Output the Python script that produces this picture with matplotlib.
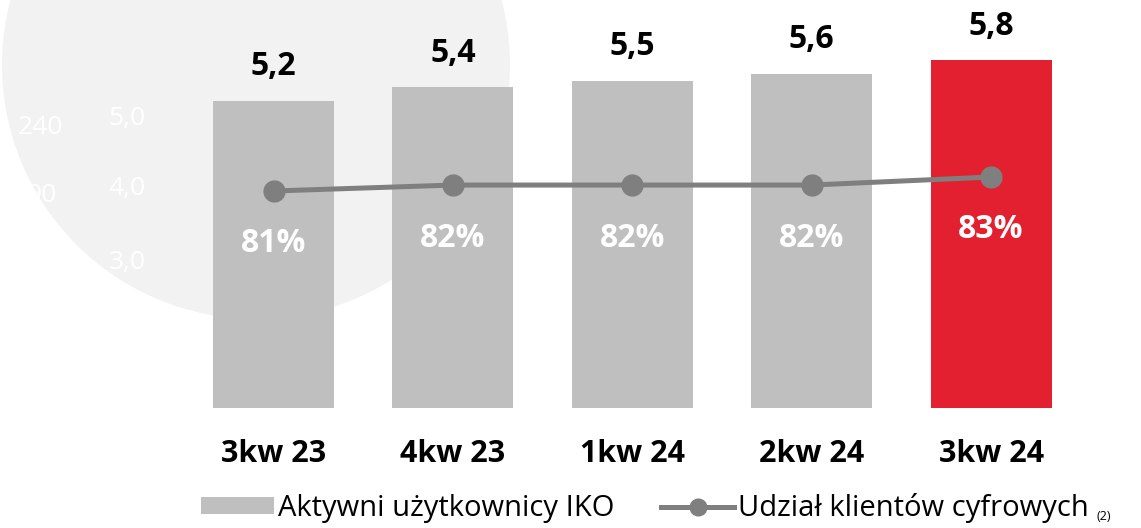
import numpy as np
import matplotlib.pyplot as plt
from matplotlib.patches import Ellipse, Patch
from matplotlib.lines import Line2D

kwartaly = ["3kw 23", "4kw 23", "1kw 24", "2kw 24", "3kw 24"]
uzytkownicy = [5.2, 5.4, 5.5, 5.6, 5.8]          # mln, Aktywni użytkownicy IKO
udzial = [81.0, 81.85, 81.85, 81.85, 83.0]        # %, Udział klientów cyfrowych
udzial_etykiety = ["81%", "82%", "82%", "82%", "83%"]

szary = "#BFBFBF"
czerwony = "#E3202F"
linia = "#7F7F7F"

plt.rcParams['font.family'] = ['Open Sans', 'DejaVu Sans']

fig = plt.figure(figsize=(11.41, 5.28), dpi=100)
fig.patch.set_facecolor("white")

# jasne kolo w tle
kolo = Ellipse((256 / 1141, 1 - 65 / 528), 508 / 1141, 508 / 528,
               transform=fig.transFigure, facecolor="#F2F2F2", edgecolor="none", zorder=-2)
fig.patches.append(kolo)

# blade napisy na kole
for tx, x, y in [("240", 40, 128), ("5,0", 127, 118), ("90", 42, 196), ("4,0", 127, 189), ("3,0", 127, 263)]:
    fig.text(x / 1141, 1 - y / 528, tx, color="white", fontsize=19, ha="center", va="center",
             zorder=-1)

ax = fig.add_axes([0, 1 - 408 / 528, 1, 408 / 528])
ax.set_facecolor("none")
x = np.arange(len(kwartaly))
kolory = [szary] * (len(kwartaly) - 1) + [czerwony]
ax.bar(x, uzytkownicy, width=0.674, color=kolory, zorder=2)
ax.set_xlim(-273.5 / 179.4, (1141 - 273.5) / 179.4)
# os slupkow nie zaczyna sie od zera
ax.set_ylim(0.705, 0.705 + 408 / 68.3)

for xi, v in zip(x, uzytkownicy):
    ax.annotate(f"{v:.1f}".replace(".", ","), (xi, v), xytext=(0, 34), textcoords="offset pixels",
                ha="center", va="center", fontsize=23, fontweight="bold", color="black")

ax.set_xticks(x)
ax.set_xticklabels(kwartaly, fontsize=22, fontweight="bold")
ax.tick_params(axis="x", length=0, pad=22)
ax.set_yticks([])
for s in ax.spines.values():
    s.set_visible(False)

ax2 = ax.twinx()
ax2.set_ylim(81 - (408 - 191) / 7, 81 + 191 / 7)
ax2.plot(x, udzial, color=linia, lw=3.6, marker="o", markersize=15, zorder=3)
for xi, v, et in zip(x, udzial, udzial_etykiety):
    ax2.annotate(et, (xi, v), xytext=(0, -53), textcoords="offset pixels",
                 ha="center", va="center", fontsize=23, fontweight="bold", color="white")
ax2.set_yticks([])
for s in ax2.spines.values():
    s.set_visible(False)

uchwyty = [Patch(facecolor=szary, edgecolor="none"),
           Line2D([0], [0], color=linia, lw=3.6, marker="o", markersize=12)]
fig.legend(uchwyty, ["Aktywni użytkownicy IKO", "Udział klientów cyfrowych"],
           loc="center", bbox_to_anchor=(645 / 1141, 1 - 508 / 528), ncol=2, frameon=False,
           fontsize=21, handlelength=2.5, handleheight=0.5, handletextpad=0.15, columnspacing=1.6)
fig.text(1104 / 1141, 1 - 517 / 528, "(2)", fontsize=9, ha="center", va="center")

fig.savefig("out.png", dpi=100)
